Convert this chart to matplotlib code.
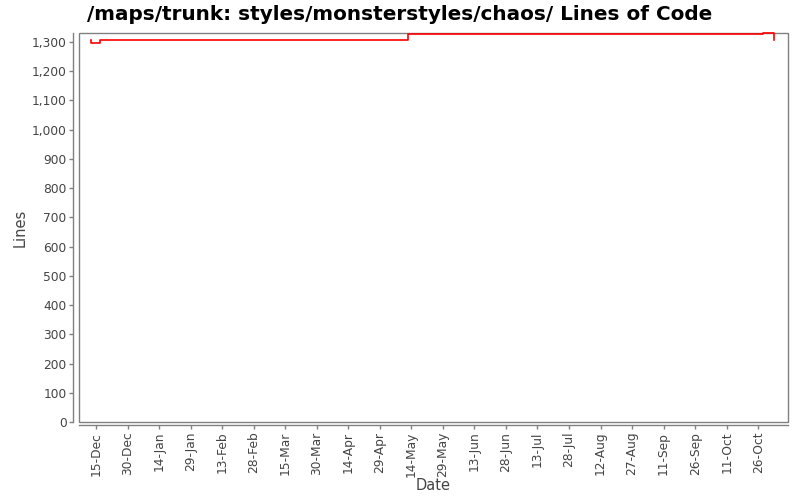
import datetime as dt
import matplotlib
matplotlib.use("Agg")
import matplotlib.pyplot as plt
import matplotlib.dates as mdates
from matplotlib.patches import Rectangle
from matplotlib.ticker import FuncFormatter, MultipleLocator

# step data: date, lines of code
dates = [
    dt.datetime(2008, 12, 12, 14),
    dt.datetime(2008, 12, 12, 16),
    dt.datetime(2008, 12, 17, 0),
    dt.datetime(2009, 5, 12, 12),
    dt.datetime(2009, 10, 28, 12),
    dt.datetime(2009, 11, 2, 12),
]
lines = [1305, 1296, 1305, 1325, 1329, 1307]

title = "/maps/trunk: styles/monsterstyles/chaos/ Lines of Code"
tick_start = dt.datetime(2008, 12, 15)
n_ticks = 22

fig = plt.figure(figsize=(8, 5), dpi=100)
ax = fig.add_axes([79 / 800, 78 / 500, (788 - 79) / 800, (467 - 78) / 500])

ax.plot(dates, lines, drawstyle="steps-post", color="#ff0000", lw=1.2, clip_on=False, zorder=3)

ax.set_xlim(dt.datetime(2008, 12, 6, 22), dt.datetime(2009, 11, 9, 4))
ax.set_ylim(0, 1330)

ticks = [tick_start + dt.timedelta(days=15 * i) for i in range(n_ticks)]
ax.set_xticks(ticks)
ax.xaxis.set_major_formatter(mdates.DateFormatter("%d-%b"))
ax.yaxis.set_major_locator(MultipleLocator(100))
ax.yaxis.set_major_formatter(FuncFormatter(lambda v, p: f"{int(v):,}"))

ax.tick_params(axis="both", colors="#808080", labelcolor="#444444", labelsize=8.8, length=3, width=1)
ax.tick_params(axis="x", labelrotation=90, pad=2)
ax.tick_params(axis="y", pad=2)

# frame + offset axis lines
for s in ("top", "right"):
    ax.spines[s].set_visible(False)
ax.spines["left"].set_position(("outward", 4))
ax.spines["bottom"].set_position(("outward", 2))
for s in ("left", "bottom"):
    ax.spines[s].set_color("#808080")
    ax.spines[s].set_linewidth(1)
ax.add_patch(Rectangle((0, 0), 1, 1, transform=ax.transAxes, fill=False,
                       edgecolor="#808080", lw=1, zorder=2, clip_on=False))

ax.set_xlabel("Date", fontsize=10.5, color="#444444", labelpad=1)
ax.set_ylabel("Lines", fontsize=10.5, color="#444444", labelpad=3)
fig.text(0.5, 0.972, title, ha="center", va="center", fontsize=14.4, fontweight="bold")

fig.savefig("out.png", dpi=100)
